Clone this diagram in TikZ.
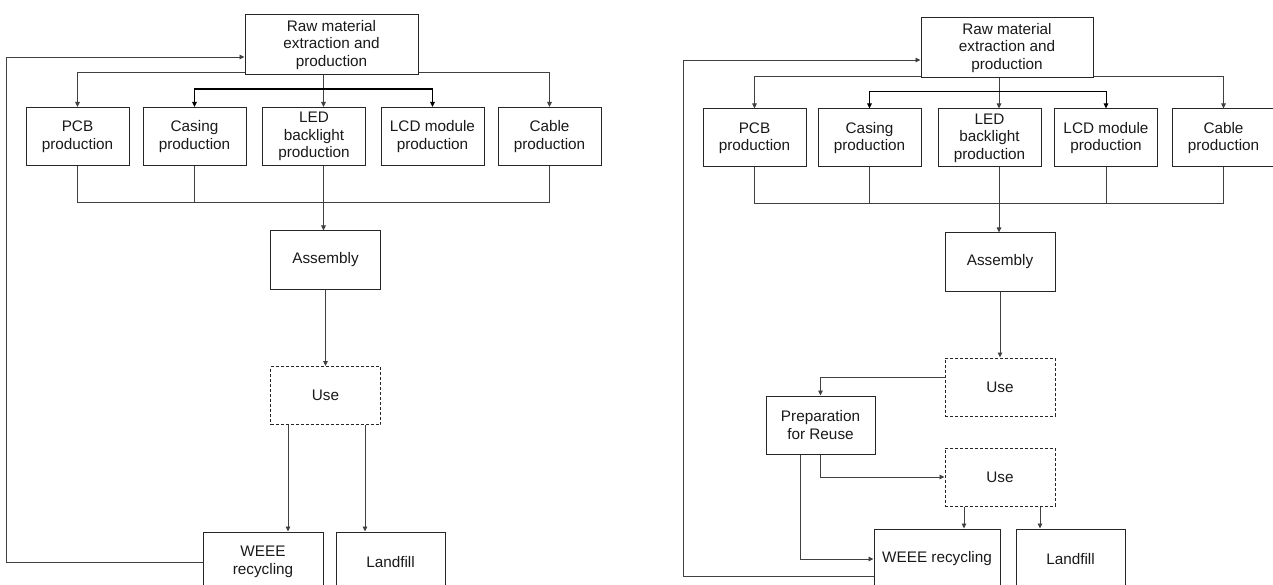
\documentclass[tikz,border=0pt]{standalone}
\usepackage{fontspec}
\setmainfont{Liberation Sans}
\usetikzlibrary{arrows.meta}
\begin{document}
\begin{tikzpicture}[x=1pt, y=-1pt,
	box/.style={draw=black!85, line width=1pt, align=center, inner sep=0pt, minimum height=58pt, text=black!90, font=\fontsize{15.3}{17.5}\selectfont},
	usebox/.style={box, dash pattern=on 3pt off 2pt},
	link/.style={draw=black!75, line width=0.9pt},
	arr/.style={link, -{Triangle[length=5pt, width=4.5pt]}},
	both/.style={link, {Triangle[length=5pt, width=4.5pt]}-{Triangle[length=5pt, width=4.5pt]}},
	]
	\useasboundingbox (0,0) rectangle (1273,585);

	\node[box, minimum width=173pt, minimum height=60pt] (raw) at (331.5,45) {Raw material\\extraction and\\production};
	\foreach \n/\x/\t in {pcb/77.5/{PCB\\production}, casing/194.5/{Casing\\production}, led/314/{LED\\backlight\\production}, lcd/432.5/{LCD module\\production}, cable/549.5/{Cable\\production}}{
		\node[box, minimum width=103pt] (\n) at (\x,136.5) {\t};
	}
	\node[box, minimum width=110pt] (asm) at (325.5,260) {Assembly};
	\node[usebox, minimum width=110pt] (use) at (325.5,395.5) {Use};
	\node[box, minimum width=120pt, minimum height=60pt] (weee) at (263,562) {WEEE\\recycling};
	\node[box, minimum width=109pt, minimum height=60pt] (land) at (390.5,562) {Landfill};

	\draw[arr] ([yshift=3pt]raw.south west) -| (pcb.north);
	\draw[arr] ([yshift=3pt]raw.south east) -| (cable.north);
	\draw[arr] ([xshift=-8pt]raw.south) -- ([xshift=-8pt]raw.south |- led.north);
	\draw[both, draw=black, line width=1.3pt] (casing.north) -- ++(0,-18) -| (lcd.north);
	\draw[link] (pcb.south) -- ++(0,36) -| (cable.south);
	\draw[link] (casing.south) -- ++(0,36);
	\draw[arr] ([xshift=9.5pt]led.south) -- ([xshift=9.5pt]led.south |- asm.north);
	\draw[arr] (asm) -- (use);
	\draw[arr] ([xshift=-37.5pt]use.south) -- ([xshift=-37.5pt]use.south |- weee.north);
	\draw[arr] ([xshift=39.5pt]use.south) -- ([xshift=39.5pt]use.south |- land.north);
	\draw[arr] (weee.west) -- ++(-196,0) |- ([yshift=-12pt]raw.west);

	\node[box, minimum width=172pt, minimum height=60pt] (raw2) at (1007,48) {Raw material\\extraction and\\production};
	\foreach \n/\x/\t in {pcb2/754.5/{PCB\\production}, casing2/869.5/{Casing\\production}, led2/989.5/{LED\\backlight\\production}, lcd2/1106/{LCD module\\production}, cable2/1223.5/{Cable\\production}}{
		\node[box, minimum width=103pt] (\n) at (\x,138) {\t};
	}
	\node[box, minimum width=110pt] (asm2) at (1000,262) {Assembly};
	\node[usebox, minimum width=110pt] (use2a) at (1000,387) {Use};
	\node[box, minimum width=109pt] (prep) at (820.5,425) {Preparation\\for Reuse};
	\node[usebox, minimum width=110pt] (use2b) at (1000,477) {Use};
	\node[box, minimum width=126pt, minimum height=60pt] (weee2) at (937,559) {WEEE recycling};
	\node[box, minimum width=109pt, minimum height=60pt] (land2) at (1070.5,559) {Landfill};

	\draw[arr] ([yshift=2pt]raw2.south west) -| (pcb2.north);
	\draw[arr] ([yshift=2pt]raw2.south east) -| (cable2.north);
	\draw[arr] ([xshift=-8pt]raw2.south) -- ([xshift=-8pt]raw2.south |- led2.north);
	\draw[both, draw=black, line width=1pt] (casing2.north) -- ++(0,-17) -| (lcd2.north);
	\draw[link] (pcb2.south) -- ++(0,36) -| (cable2.south);
	\draw[link] (casing2.south) -- ++(0,36);
	\draw[link] (lcd2.south) -- ++(0,36);
	\draw[arr] ([xshift=9.5pt]led2.south) -- ([xshift=9.5pt]led2.south |- asm2.north);
	\draw[arr] (asm2) -- (use2a);
	\draw[arr] ([yshift=10pt]use2a.west) -| (prep.north);
	\draw[arr] (prep.south) |- (use2b.west);
	\draw[arr] ([xshift=-20.5pt]prep.south) |- (weee2.west);
	\draw[arr] ([xshift=-36pt]use2b.south) -- ([xshift=-36pt]use2b.south |- weee2.north);
	\draw[arr] ([xshift=40pt]use2b.south) -- ([xshift=40pt]use2b.south |- land2.north);
	\draw[arr] ([yshift=-17pt]weee2.west) -- ++(-190,0) |- ([yshift=-12pt]raw2.west);
\end{tikzpicture}
\end{document}
